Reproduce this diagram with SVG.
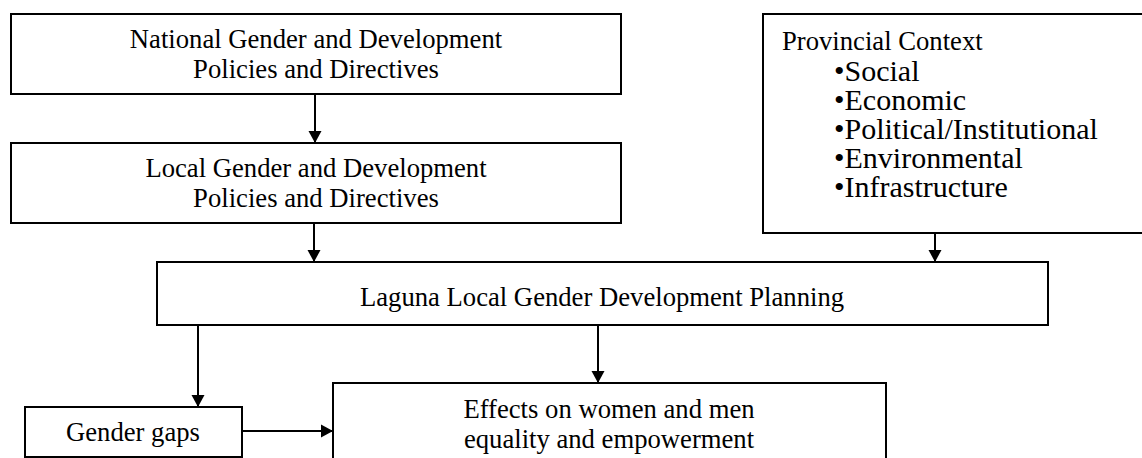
<svg xmlns="http://www.w3.org/2000/svg" width="1142" height="458" viewBox="0 0 1142 458">
<style>
.box{fill:#fff;stroke:#000;stroke-width:2}
.t{font-family:"Liberation Serif","Times New Roman",serif;font-size:26.67px;fill:#000}
.c{text-anchor:middle}
.b{font-size:30px}
.edge{stroke:#000;stroke-width:2;fill:none;marker-end:url(#ah)}
</style>
<defs>
<marker id="ah" markerUnits="userSpaceOnUse" markerWidth="14" markerHeight="14" refX="12" refY="7" orient="auto">
<path d="M0,0.5 L12,7 L0,13.5 Z" fill="#000"/>
</marker>
</defs>
<rect width="1142" height="458" fill="#fff"/>
<g id="connectors">
<line class="edge" x1="315" y1="94" x2="315" y2="143"/>
<line class="edge" x1="314" y1="223" x2="314" y2="262"/>
<line class="edge" x1="935" y1="233" x2="935" y2="262"/>
<line class="edge" x1="198" y1="325" x2="198" y2="407"/>
<line class="edge" x1="598" y1="325" x2="598" y2="383"/>
<line class="edge" x1="242" y1="431" x2="333" y2="431"/>
</g>
<g id="national">
<rect class="box" x="11" y="14" width="610" height="80"/>
<text class="t c" x="316" y="48">National Gender and Development</text>
<text class="t c" x="316" y="78">Policies and Directives</text>
</g>
<g id="local">
<rect class="box" x="11" y="143" width="610" height="80"/>
<text class="t c" x="316" y="177">Local Gender and Development</text>
<text class="t c" x="316" y="207">Policies and Directives</text>
</g>
<g id="provincial">
<rect class="box" x="763" y="14" width="390" height="219"/>
<text class="t" x="782" y="50">Provincial Context</text>
<text class="t b" x="834" y="81">•Social</text>
<text class="t b" x="834" y="110">•Economic</text>
<text class="t b" x="834" y="139">•Political/Institutional</text>
<text class="t b" x="834" y="168">•Environmental</text>
<text class="t b" x="834" y="197">•Infrastructure</text>
</g>
<g id="laguna">
<rect class="box" x="157" y="262" width="891" height="63"/>
<text class="t c" x="602" y="306">Laguna Local Gender Development Planning</text>
</g>
<g id="gaps">
<rect class="box" x="25" y="407" width="217" height="50"/>
<text class="t c" x="133" y="441">Gender gaps</text>
</g>
<g id="effects">
<rect class="box" x="333" y="383" width="553" height="90"/>
<text class="t c" x="609" y="418">Effects on women and men</text>
<text class="t c" x="609" y="448">equality and empowerment</text>
</g>
</svg>
